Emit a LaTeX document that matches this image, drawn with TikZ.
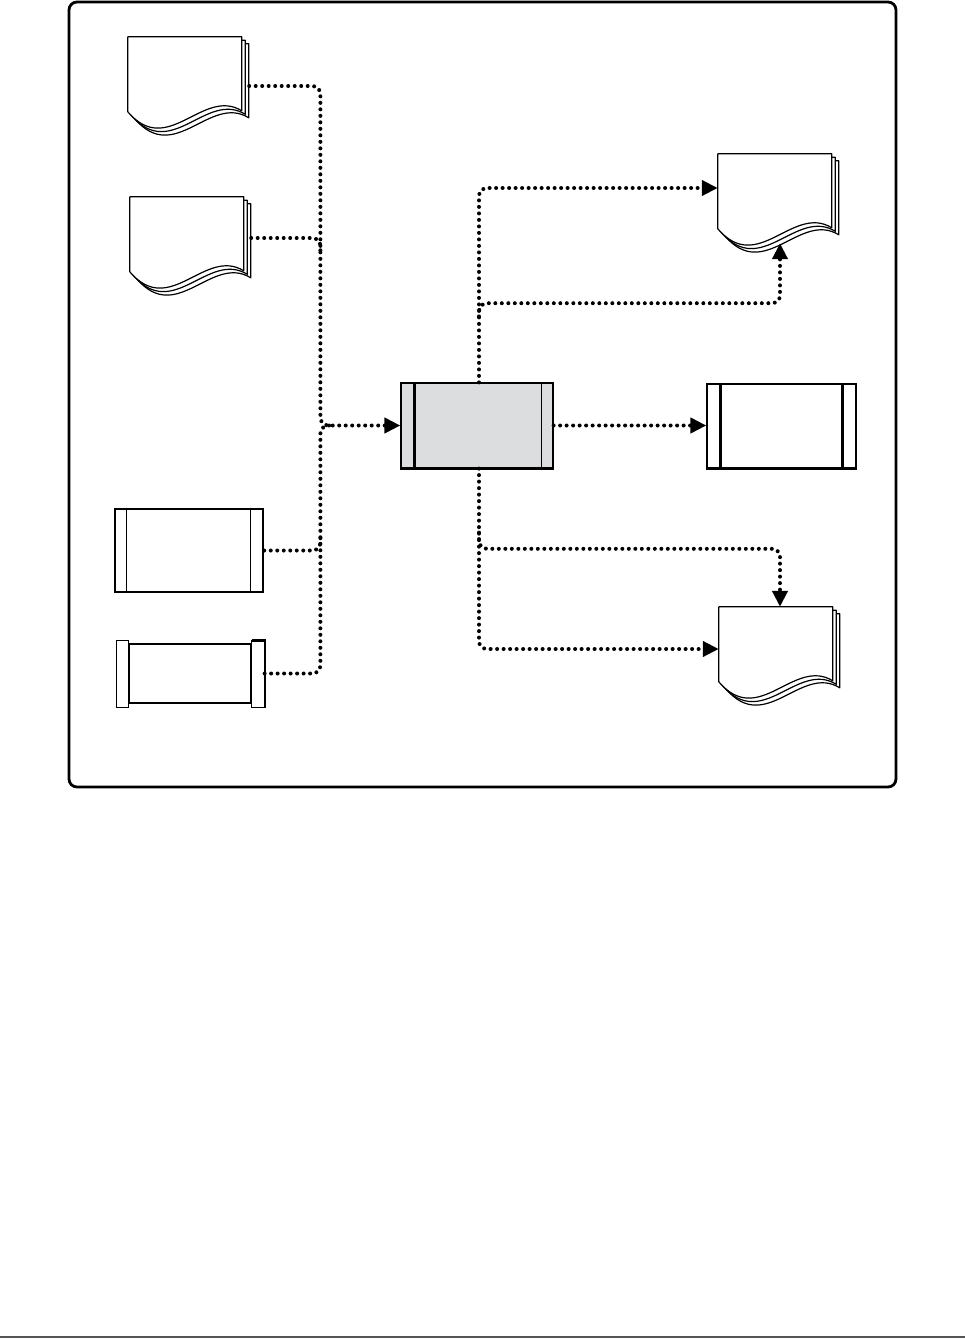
\documentclass[tikz,border=0pt]{standalone}
\usetikzlibrary{arrows.meta,calc}

\definecolor{procgray}{HTML}{DCDDDF}
\definecolor{rulegray}{HTML}{555555}

% stack of three pages behind a docnode
\newcommand\docstack[1]{%
  \foreach \o in {7,3.5,0}{%
    \begin{scope}[shift={($(#1.north west)+(\o,\o)$)}]
      \draw[page] (0,0) -- (114,0) -- (114,74) .. controls (75,50) and (40,122) .. (0,75) -- cycle;
    \end{scope}
  }%
}

\begin{document}
\begin{tikzpicture}[x=1pt,y=-1pt,
  page/.style={draw,fill=white,line width=1.2pt,line join=round},
  docnode/.style={minimum width=114pt,minimum height=75pt,inner sep=0pt},
  flow/.style={line width=4pt,dash pattern=on 0pt off 6.5pt,line cap=round,rounded corners=8pt},
  arr/.style={-{Triangle[length=16pt,width=15pt]}}]

\useasboundingbox (0,0) rectangle (965,1339);

\draw[line width=2.8pt,rounded corners=8pt] (69,2) rectangle (896,787);

% inputs
\node[docnode] (srcA) at (185,74.5) {};
\docstack{srcA}
\node[docnode] (srcB) at (187,234.5) {};
\docstack{srcB}

\node[draw,line width=2.5pt,minimum width=148pt,minimum height=83pt,inner sep=0pt] (srcC) at (189,550.5) {};
\draw[line width=1.2pt] ($(srcC.north west)+(13,0)$) -- ($(srcC.south west)+(13,0)$);
\draw[line width=1.2pt] ($(srcC.north east)+(-14,0)$) -- ($(srcC.south east)+(-14,0)$);

\node[draw,line width=1.2pt,minimum width=122pt,minimum height=59pt,inner sep=0pt] (srcD) at (190,673.5) {};
\draw[line width=1.2pt] ($(srcD.north west)+(-12,-3)$) rectangle ($(srcD.south west)+(0,4)$);
\draw[line width=1.2pt] ($(srcD.north east)+(0,-3)$) rectangle ($(srcD.south east)+(13,4)$);
\draw[line width=2.2pt] ($(srcD.north east)+(0,-3)$) -- ($(srcD.north east)+(13,-3)$) -- ($(srcD.south east)+(13,4)$);

% process
\node[draw,fill=procgray,line width=1.2pt,minimum width=152pt,minimum height=85pt,inner sep=0pt] (proc) at (477,425.5) {};
\draw[line width=2.4pt] ($(proc.north west)+(14,0)$) -- ($(proc.south west)+(14,0)$);
\draw[line width=1.2pt] ($(proc.north east)+(-12,0)$) -- ($(proc.south east)+(-12,0)$);
\draw[line width=2.4pt] (proc.south west) -- (proc.south east);

% outputs
\node[docnode] (outA) at (775,191.5) {};
\docstack{outA}
\node[docnode] (outB) at (776,644.5) {};
\docstack{outB}

\node[draw,line width=1.2pt,minimum width=149pt,minimum height=84pt,inner sep=0pt] (store) at (781.5,426) {};
\draw[line width=2.4pt] ($(store.north west)+(14,0)$) -- ($(store.south west)+(14,0)$);
\draw[line width=2.4pt] ($(store.north east)+(-14,0)$) -- ($(store.south east)+(-14,0)$);
\draw[line width=2.4pt] (store.south west) -- (store.south east);

% left bus
\draw[flow,arr] ($(srcA.east)+(7,11.5)$) -| ($(proc.west)+(-80,0)$) -- (proc.west);
\draw[flow] ($(srcB.east)+(7,3.5)$) -| ($(proc.west)+(-80,-172)$);
\draw[flow] (srcC.east) -| ($(proc.west)+(-80,110)$);
\draw[flow] ($(srcD.east)+(13,0)$) -| ($(proc.west)+(-80,0)$) -- ($(proc.west)+(-70,0)$);

% right side
\draw[flow,arr] ($(proc.north)+(2,0)$) |- ($(outA.west)+(0,-3.5)$);
\draw[flow,arr] ($(proc.north)+(2,-66)$) |- ($(outA.south)+(5,74)$) -- ($(outA.south)+(5,14)$);
\draw[flow,arr] (proc.east) -- (proc.east -| store.west);
\draw[flow,arr] ($(proc.south)+(2,0)$) |- ($(outB.west)+(0,4.5)$);
\draw[flow,arr] ($(proc.south)+(2,64)$) |- ($(outB.north)+(4,-58)$) -- ($(outB.north)+(4,0)$);

\draw[line width=2pt,rulegray] (0,1337) -- (965,1337);

\end{tikzpicture}
\end{document}
